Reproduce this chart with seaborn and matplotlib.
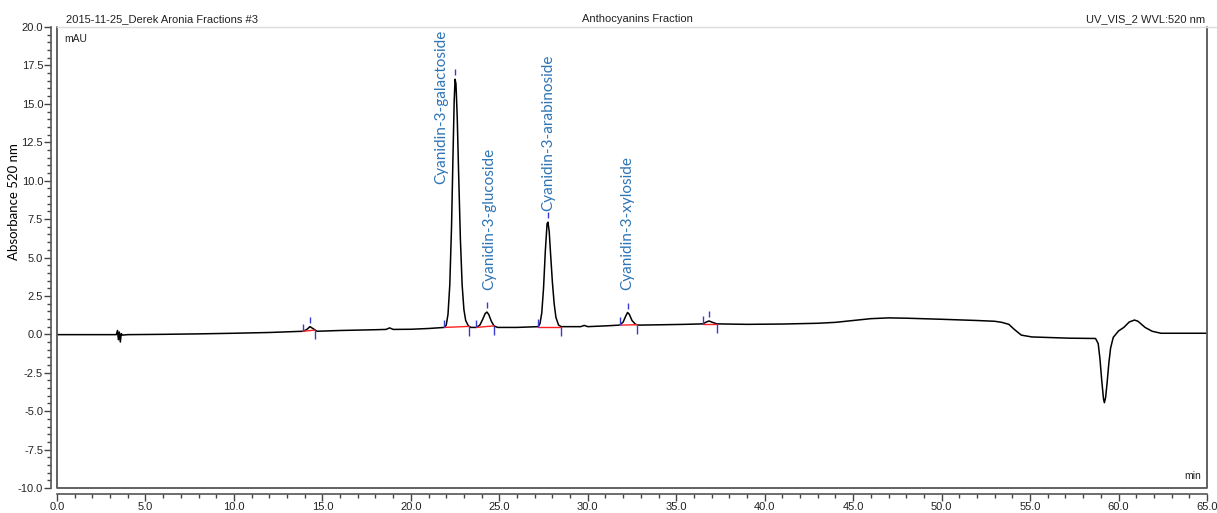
import numpy as np
import matplotlib
matplotlib.use("Agg")
import matplotlib.pyplot as plt
import matplotlib.ticker as ticker
from matplotlib.lines import Line2D
import seaborn as sns

# ---- data (time in min, absorbance in mAU) ----
times = [0.0, 1.5, 3.0, 3.35, 3.42, 3.47, 3.52, 3.58, 3.63, 3.70, 4.0, 6.0, 8.0, 10.0, 12.0,
         13.9, 14.1, 14.3, 14.5, 14.7, 16.0, 18.0, 18.6, 18.8, 19.0, 20.0, 21.0, 21.9,
         22.0, 22.1, 22.2, 22.3, 22.38, 22.45, 22.5, 22.55, 22.62, 22.7, 22.8, 22.9, 23.0, 23.1, 23.25, 23.4,
         23.7, 23.9, 24.05, 24.2, 24.3, 24.4, 24.55, 24.7, 24.9, 26.0,
         27.2, 27.3, 27.4, 27.5, 27.6, 27.7, 27.75, 27.82, 27.9, 28.0, 28.1, 28.2, 28.35, 28.5,
         29.6, 29.8, 30.0, 31.0, 31.8, 32.0, 32.15, 32.25, 32.35, 32.5, 32.7, 32.9,
         34.0, 35.5, 36.5, 36.7, 36.85, 37.0, 37.3, 39.0, 41.0, 43.0, 44.0, 45.0, 46.0, 47.0,
         48.0, 50.0, 52.0, 53.0, 53.4, 53.8, 54.1, 54.5, 55.1, 57.2, 58.7, 58.85, 58.95, 59.05,
         59.15, 59.2, 59.27, 59.35, 59.45, 59.55, 59.7, 60.0, 60.3, 60.6, 60.9, 61.1, 61.5,
         61.9, 62.4, 65.0]
absorbance = [-0.02, -0.02, -0.02, -0.02, 0.25, -0.35, 0.15, -0.5, 0.05, -0.05, -0.02, 0.0, 0.03, 0.07, 0.12,
              0.2, 0.3, 0.5, 0.35, 0.2, 0.25, 0.3, 0.32, 0.42, 0.32, 0.33, 0.38, 0.45,
              0.6, 1.3, 3.2, 7.0, 11.5, 15.2, 16.6, 16.3, 14.2, 10.5, 6.2, 3.2, 1.6, 0.9, 0.55, 0.45,
              0.45, 0.6, 0.95, 1.35, 1.45, 1.3, 0.85, 0.55, 0.45, 0.45,
              0.5, 0.7, 1.4, 3.0, 5.4, 7.2, 7.3, 6.7, 5.2, 3.4, 2.0, 1.1, 0.6, 0.5,
              0.5, 0.58, 0.5, 0.55, 0.6, 0.8, 1.2, 1.42, 1.3, 0.9, 0.65, 0.6,
              0.62, 0.65, 0.68, 0.8, 0.87, 0.8, 0.68, 0.65, 0.67, 0.72, 0.78, 0.9, 1.02, 1.07,
              1.05, 0.98, 0.9, 0.85, 0.78, 0.65, 0.33, -0.05, -0.17, -0.25, -0.27, -0.6, -1.6, -3.0,
              -4.2, -4.45, -4.1, -3.2, -1.9, -0.9, -0.2, 0.22, 0.45, 0.8, 0.93, 0.85, 0.45,
              0.2, 0.07, 0.07]

# integration windows of detected peaks
peak_start = [13.9, 21.9, 23.7, 27.2, 31.8, 36.5]
peak_end = [14.6, 23.3, 24.7, 28.5, 32.8, 37.3]
peak_apex = [14.3, 22.5, 24.3, 27.75, 32.25, 36.85]

peak_names = ["Cyanidin-3-galactoside", "Cyanidin-3-glucoside",
              "Cyanidin-3-arabinoside", "Cyanidin-3-xyloside"]
peak_name_apex = [22.5, 24.3, 27.75, 32.25]

# ---- style ----
sns.set_theme(style="white")
plt.rcParams['font.family'] = ['Liberation Sans', 'DejaVu Sans']

W, H = 1217, 513
fig = plt.figure(figsize=(W / 100, H / 100), dpi=100)
ax = fig.add_axes([57 / W, 1 - 488 / H, (1207 - 57) / W, (488 - 27) / H])

sns.lineplot(x=times, y=absorbance, color="black", linewidth=1.1, ax=ax)

# baselines + start/end/apex markers
tick_blue = "#3a3ad0"
for s, e, a in zip(peak_start, peak_end, peak_apex):
    ys, ye, ya = np.interp([s, e, a], times, absorbance)
    ax.plot([s, e], [ys, ye], color="#ff2020", linewidth=1.0)
    ax.vlines(s, ys, ys + 0.5, color=tick_blue, linewidth=1.0)
    ax.vlines(e, ye - 0.6, ye, color=tick_blue, linewidth=1.0)
    ax.vlines(a, ya + 0.25, ya + 0.65, color=tick_blue, linewidth=1.0)

# peak labels (galactoside sits beside its peak)
label_dx = [-0.8, 0.15, 0.0, 0.0]
label_y = [9.8, 2.9, 8.0, 2.9]
for name, a, dx, ly in zip(peak_names, peak_name_apex, label_dx, label_y):
    ax.text(a + dx, ly, name, rotation=90, ha="center", va="bottom",
            color="#2e74b5", fontsize=11, family=["Lato", "DejaVu Sans"])

ax.set_xlim(0, 65)
ax.set_ylim(-10, 20)
ax.xaxis.set_major_locator(ticker.MultipleLocator(5))
ax.xaxis.set_minor_locator(ticker.MultipleLocator(1))
ax.yaxis.set_major_locator(ticker.MultipleLocator(2.5))
ax.yaxis.set_minor_locator(ticker.MultipleLocator(0.5))
ax.xaxis.set_major_formatter(ticker.FormatStrFormatter('%.1f'))
ax.yaxis.set_major_formatter(ticker.FormatStrFormatter('%.1f'))
ax.tick_params(axis="both", which="major", length=5, width=1, color="#444444",
               labelsize=8, labelcolor="#222222", pad=1)
ax.tick_params(axis="both", which="minor", length=3, width=1, color="#444444")
ax.tick_params(axis="x", which="both", bottom=True, direction="out")
ax.tick_params(axis="y", which="both", left=True, direction="out")

for side in ["left", "bottom"]:
    ax.spines[side].set_position(("outward", 4))
    ax.spines[side].set_color("#555555")
    ax.spines[side].set_linewidth(1.2)
ax.spines["top"].set_visible(False)
ax.spines["right"].set_visible(False)
# inner frame
ax.plot([0, 0, 1, 1], [1, 0, 0, 1], transform=ax.transAxes, color="#555555",
        linewidth=1.3, clip_on=False)
fig.add_artist(Line2D([57 / W, 1.0], [1 - 27 / H] * 2, color="#dddddd", linewidth=1.0))

ax.set_xlabel("")
ax.set_ylabel("")
ax.text(0.006, 0.985, "mAU", transform=ax.transAxes, ha="left", va="top", fontsize=7.5, color="#222222")
ax.text(0.995, 0.015, "min", transform=ax.transAxes, ha="right", va="bottom", fontsize=7.5, color="#222222")

fig.text(14 / W, 1 - 202 / H, "Absorbance 520 nm", rotation=90, ha="center", va="center",
         fontsize=9.5, family=["Lato", "DejaVu Sans"], color="black")

hy = 1 - 19 / H
fig.text(66 / W, hy, "2015-11-25_Derek Aronia Fractions #3", ha="left", va="center", fontsize=8, color="#222222")
fig.text(637 / W, hy, "Anthocyanins Fraction", ha="center", va="center", fontsize=8, color="#222222")
fig.text(1205 / W, hy, "UV_VIS_2 WVL:520 nm", ha="right", va="center", fontsize=8, color="#222222")

fig.savefig("out.png", dpi=100)
